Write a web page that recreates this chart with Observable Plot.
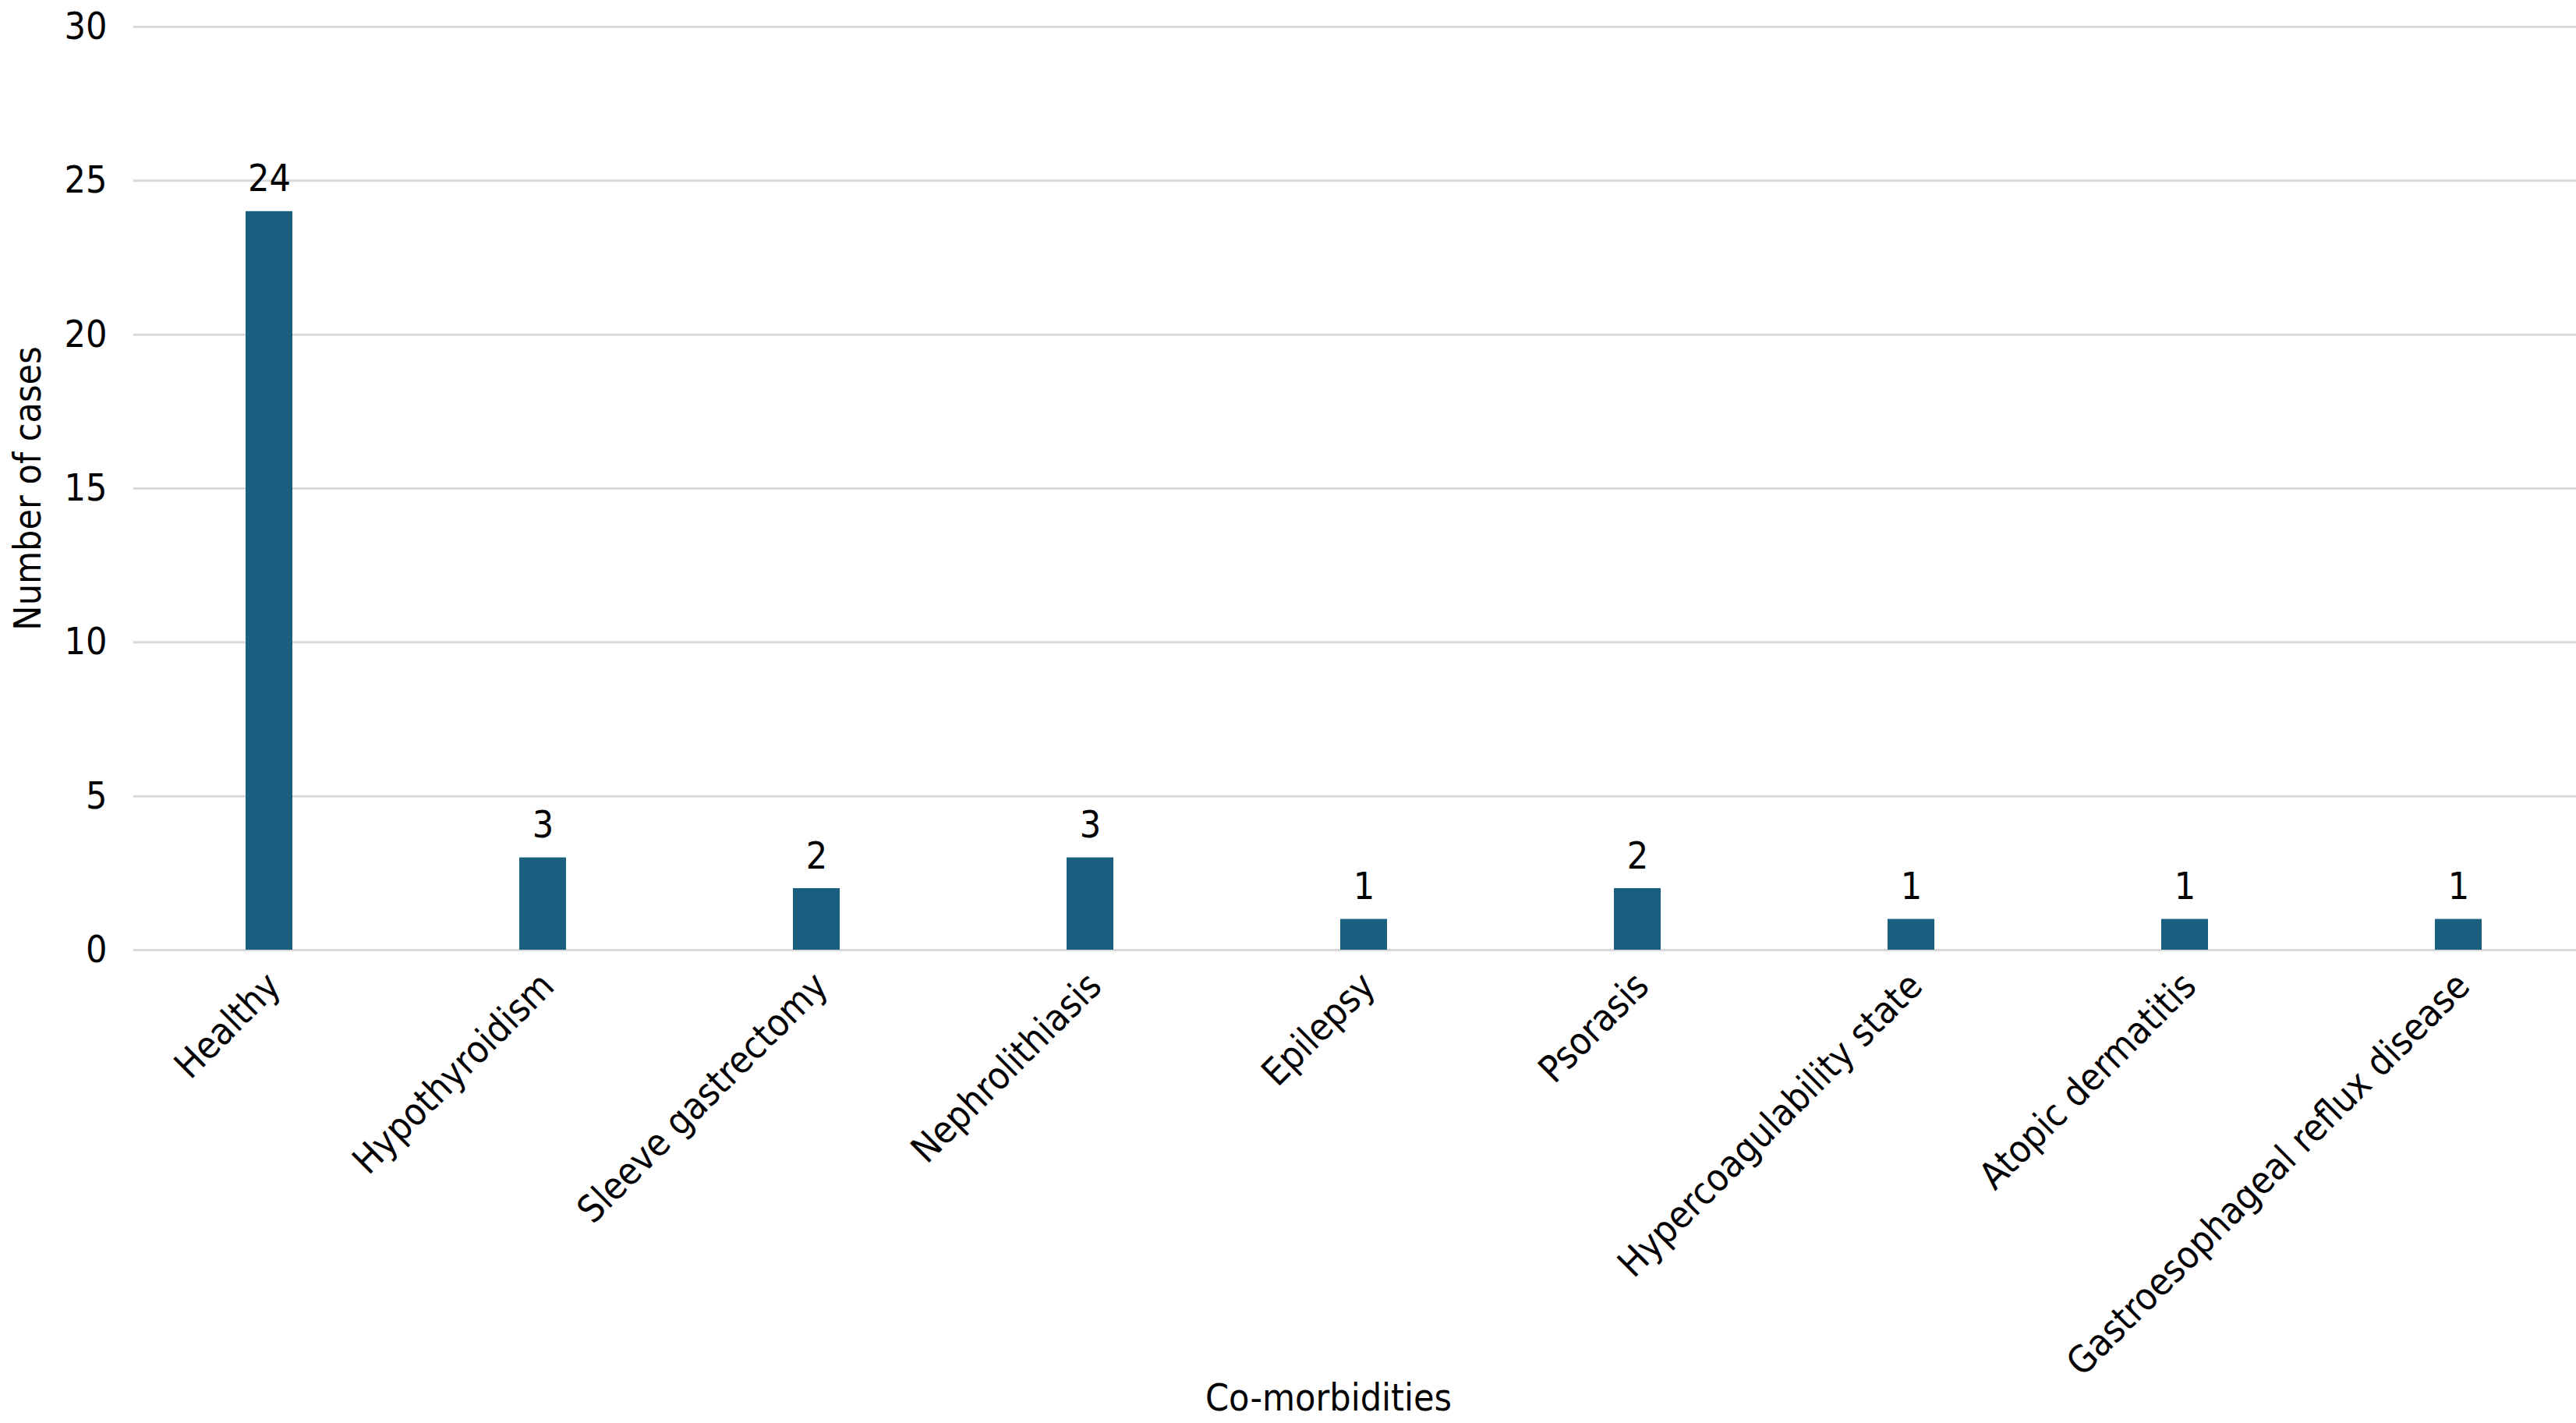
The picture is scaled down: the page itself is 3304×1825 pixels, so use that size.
<!DOCTYPE html>
<html>
<head>
<meta charset="utf-8">
<script src="https://cdn.jsdelivr.net/npm/d3@7"></script>
<script src="https://cdn.jsdelivr.net/npm/@observablehq/plot@0.6"></script>
<style>
  html, body { margin: 0; padding: 0; background: #fff; }
  #chart svg { display: block; }
</style>
</head>
<body>
<div id="chart"></div>
<script>
const categories = ["Healthy", "Hypothyroidism", "Sleeve gastrectomy", "Nephrolithiasis", "Epilepsy", "Psorasis", "Hypercoagulability state", "Atopic dermatitis", "Gastroesophageal reflux disease"];
const cases = [24, 3, 2, 3, 1, 2, 1, 1, 1];
const yTicks = [0, 5, 10, 15, 20, 25, 30];
const xTitle = "Co-morbidities";
const yTitle = "Number of cases";

const data = categories.map((c, i) => ({category: c, value: cases[i]}));
const FONT = "'DejaVu Sans Condensed', 'DejaVu Sans', sans-serif";

const chart = Plot.plot({
  width: 3304,
  height: 1825,
  marginTop: 34,
  marginBottom: 607,
  marginLeft: 171,
  marginRight: 0,
  style: {fontFamily: FONT, fontSize: "48px", color: "#000", background: "#fff"},
  x: {domain: categories, range: [167, 3331], paddingInner: 0.83, paddingOuter: 0.415, axis: null},
  y: {domain: [0, 30], axis: null},
  marks: [
    Plot.ruleY(yTicks, {stroke: "#d9d9d9", strokeWidth: 3}),
    Plot.axisY({ticks: yTicks, tickSize: 0, tickPadding: 34, fontSize: 48, label: null, tickFormat: d => d}),
    Plot.barY(data, {x: "category", y: "value", fill: "#1a5f80"}),
    Plot.text(data, {x: "category", y: "value", text: d => String(d.value), lineAnchor: "bottom", dy: -26, fontSize: 48, fill: "#000"}),
    Plot.text(data, {x: "category", frameAnchor: "bottom", text: "category", rotate: -45, textAnchor: "end", lineAnchor: "middle", dx: 6, dy: 38, fontSize: 48, fill: "#000"}),
    Plot.text([xTitle], {frameAnchor: "bottom", textAnchor: "middle", dy: 590, dx: -34, lineAnchor: "bottom", fontSize: 48, fill: "#000"}),
    Plot.text([yTitle], {frameAnchor: "left", textAnchor: "middle", rotate: -90, dx: -135, fontSize: 48, fill: "#000"})
  ]
});
document.getElementById("chart").appendChild(chart);
</script>
</body>
</html>
